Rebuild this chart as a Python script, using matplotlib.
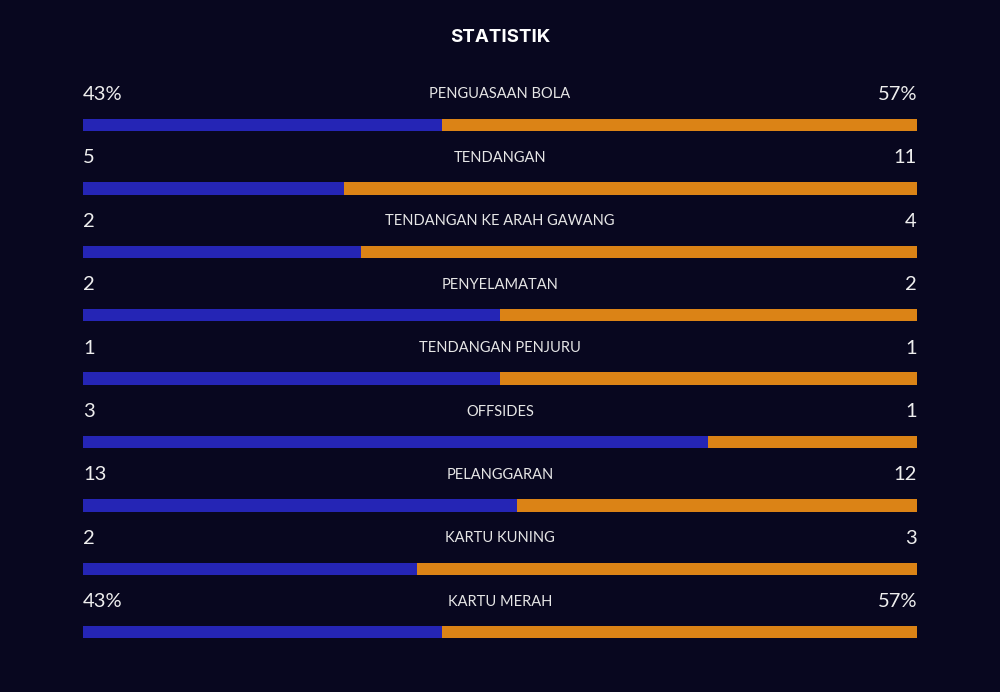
import matplotlib.pyplot as plt
import numpy as np

# match stats
labels = [
    "PENGUASAAN BOLA",
    "TENDANGAN",
    "TENDANGAN KE ARAH GAWANG",
    "PENYELAMATAN",
    "TENDANGAN PENJURU",
    "OFFSIDES",
    "PELANGGARAN",
    "KARTU KUNING",
    "KARTU MERAH",
]
home = [43, 5, 2, 2, 1, 3, 13, 2, 43]
away = [57, 11, 4, 2, 1, 1, 12, 3, 57]
home_text = ["43%", "5", "2", "2", "1", "3", "13", "2", "43%"]
away_text = ["57%", "11", "4", "2", "1", "1", "12", "3", "57%"]

BG = "#08071f"
BLUE = "#2525b5"
ORANGE = "#db8316"

plt.rcParams["font.family"] = ["Lato", "DejaVu Sans"]

fig = plt.figure(figsize=(10, 6.92), dpi=100, facecolor=BG)
ax = fig.add_axes([0.083, 0, 0.834, 1])
ax.set_facecolor(BG)

# row i centred at pixel 125 + 63.4 * i
step = 63.4
ax.set_xlim(0, 1)
ax.set_ylim((692 - 125) / step, -125 / step)
ax.axis("off")

home = np.array(home, dtype=float)
away = np.array(away, dtype=float)
share = home / (home + away)
y = np.arange(len(labels))

ax.barh(y, share, height=12.5 / step, color=BLUE, left=0)
ax.barh(y, 1 - share, height=12.5 / step, color=ORANGE, left=share)

text_y = y - 30.5 / step
for i in range(len(labels)):
    ax.text(0, text_y[i], home_text[i], ha="left", va="center",
            color="#eeeeee", fontsize=14.5)
    ax.text(1, text_y[i], away_text[i], ha="right", va="center",
            color="#eeeeee", fontsize=14.5)
    ax.text(0.5, text_y[i], labels[i], ha="center", va="center",
            color="#e6e6e6", fontsize=10.5)

fig.text(0.5, 1 - 37.5 / 692, "STATISTIK", ha="center", va="center",
         color="white", fontsize=13.5, fontweight="bold",
         family=["Inter", "DejaVu Sans"])

fig.savefig("out.png", dpi=100, facecolor=BG)
